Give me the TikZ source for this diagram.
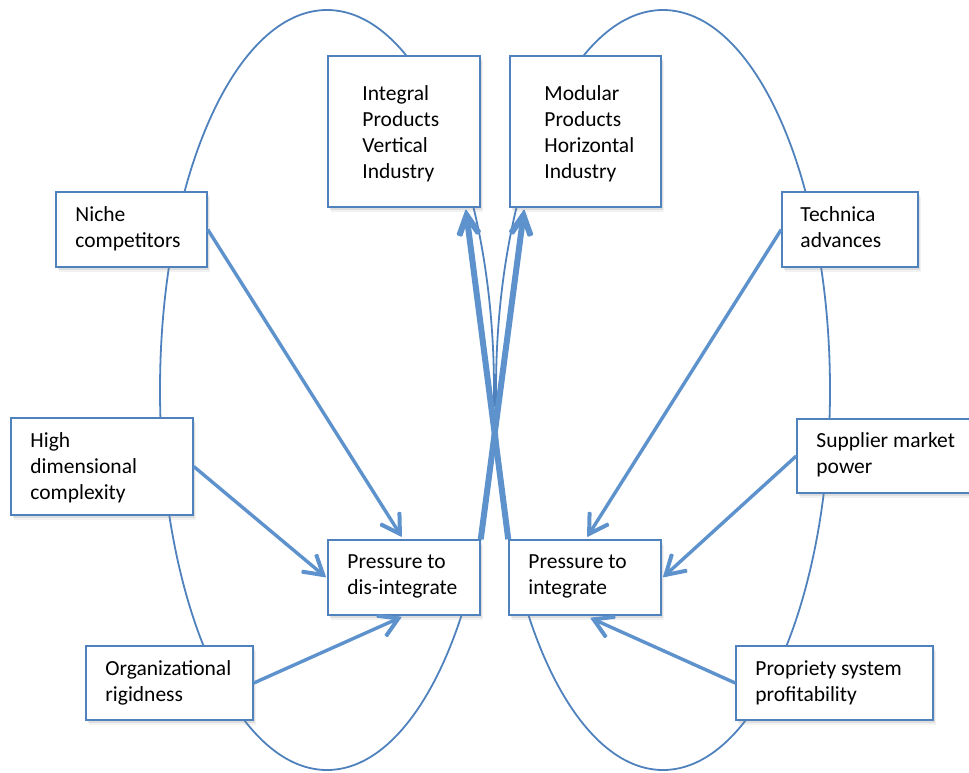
\documentclass[tikz,border=0pt]{standalone}
\usepackage{fontspec}
\setmainfont{Carlito}
\usetikzlibrary{shadows,decorations.markings,calc}

\definecolor{edgeblue}{RGB}{79,129,189}
\definecolor{linkblue}{RGB}{93,146,204}

\tikzset{
  card/.style={draw=edgeblue, line width=1.5pt, fill=white, rectangle, inner sep=0pt,
    drop shadow={shadow xshift=2.5pt, shadow yshift=-4.5pt, opacity=0.10},
    drop shadow={shadow xshift=1.5pt, shadow yshift=-2.5pt, opacity=0.18}},
  cardtext/.style={anchor=base west, inner sep=0pt, text=black,
    font=\fontsize{21.5}{26}\selectfont},
  cycle/.style={draw=edgeblue, line width=1.8pt},
  % open chevron heads, filled as outlines of a thick V
  pushhead/.style={postaction={decorate}, decoration={markings,
    mark=at position 1 with {\fill[linkblue, rounded corners=0.9pt]
      (3pt,0pt) -- (-18.7pt,13.0pt) -- (-20.8pt,9.6pt) -- (-4.8pt,0pt)
      -- (-20.8pt,-9.6pt) -- (-18.7pt,-13.0pt) -- cycle;}}},
  drivehead/.style={postaction={decorate}, decoration={markings,
    mark=at position 1 with {\fill[linkblue, rounded corners=1.2pt]
      (6pt,0pt) -- (-18.8pt,12.7pt) -- (-21.6pt,7.3pt) -- (-7.2pt,0pt)
      -- (-21.6pt,-7.3pt) -- (-18.8pt,-12.7pt) -- cycle;}}},
  push/.style={draw=linkblue, line width=3.4pt, pushhead},
  drive/.style={draw=linkblue, line width=6pt, drivehead}
}

\newcommand{\lines}[1]{\parbox[t]{8cm}{#1}}

\begin{document}
\begin{tikzpicture}[x=1pt, y=-1pt]
  \useasboundingbox (0,0) rectangle (969,772);

  % the two feedback cycles
  \draw[cycle] (327,390) ellipse [x radius=167pt, y radius=380pt];
  \draw[cycle] (663,390) ellipse [x radius=167pt, y radius=380pt];

  % industry structures
  \node[card, minimum width=152pt, minimum height=151pt] (integral) at (404,131.5) {};
  \node[card, minimum width=151pt, minimum height=151pt] (modular) at (585.5,131.5) {};

  % pressures
  \node[card, minimum width=152pt, minimum height=75pt] (disint) at (404,577.5) {};
  \node[card, minimum width=152pt, minimum height=75pt] (integ) at (585,577.5) {};

  % forces on the left
  \node[card, minimum width=151pt, minimum height=75pt] (niche) at (131.5,229.5) {};
  \node[card, minimum width=182pt, minimum height=97pt] (highdim) at (102,466.5) {};
  \node[card, minimum width=167pt, minimum height=74pt] (orgrigid) at (169.5,683) {};

  % forces on the right
  \node[card, minimum width=136pt, minimum height=75pt] (techadv) at (850,229.5) {};
  \node[card, minimum width=178pt, minimum height=74pt] (supplier) at (886,456) {};
  \node[card, minimum width=197pt, minimum height=74pt] (propsys) at (834.5,683) {};

  % texts
  \node[cardtext] (tintegral) at ([shift={(35,45)}]integral.north west)
    {\lines{Integral\\Products\\Vertical\\Industry}};
  \node[cardtext] (tmodular) at ([shift={(35,45)}]modular.north west)
    {\lines{Modular\\Products\\Horizontal\\Industry}};
  \node[cardtext] (tdisint) at ([shift={(20,29)}]disint.north west)
    {\lines{Pressure to\\dis-integrate}};
  \node[cardtext] (tinteg) at ([shift={(20,29)}]integ.north west)
    {\lines{Pressure to\\integrate}};
  \node[cardtext] (tniche) at ([shift={(20,30)}]niche.north west)
    {\lines{Niche\\competitors}};
  \node[cardtext] (thighdim) at ([shift={(20,30)}]highdim.north west)
    {\lines{High\\dimensional\\complexity}};
  \node[cardtext] (torgrigid) at ([shift={(20,30)}]orgrigid.north west)
    {\lines{Organizational\\rigidness}};
  \node[cardtext] (ttechadv) at ([shift={(19,30)}]techadv.north west)
    {\lines{Technica\\advances}};
  \node[cardtext] (tsupplier) at ([shift={(20,29)}]supplier.north west)
    {\lines{Supplier market\\power}};
  \node[cardtext] (tpropsys) at ([shift={(20,30)}]propsys.north west)
    {\lines{Propriety system\\profitability}};

  % forces pushing towards each pressure
  \draw[push] (niche.east) -- ($([xshift=-2pt,yshift=2pt]disint.north)!3pt!(niche.east)$);
  \draw[push] (highdim.east) -- ($([xshift=-1pt]disint.west)!3pt!(highdim.east)$);
  \draw[push] (orgrigid.east) -- ($([xshift=-2pt,yshift=-1pt]disint.south)!3pt!(orgrigid.east)$);
  \draw[push] (techadv.west) -- ($([xshift=2pt,yshift=2pt]integ.north)!3pt!(techadv.west)$);
  \draw[push] (supplier.west) -- ($([xshift=1pt]integ.east)!3pt!(supplier.west)$);
  \draw[push] (propsys.west) -- ($([xshift=5pt,yshift=-2pt]integ.south)!3pt!(propsys.west)$);

  % pressures leading to the opposite structure
  \draw[drive] (disint.north east) -- ($([xshift=15pt,yshift=-1pt]modular.south west)!6pt!(disint.north east)$);
  \draw[drive] (integ.north west) -- ($([xshift=-15pt,yshift=-1pt]integral.south east)!6pt!(integ.north west)$);
\end{tikzpicture}
\end{document}
